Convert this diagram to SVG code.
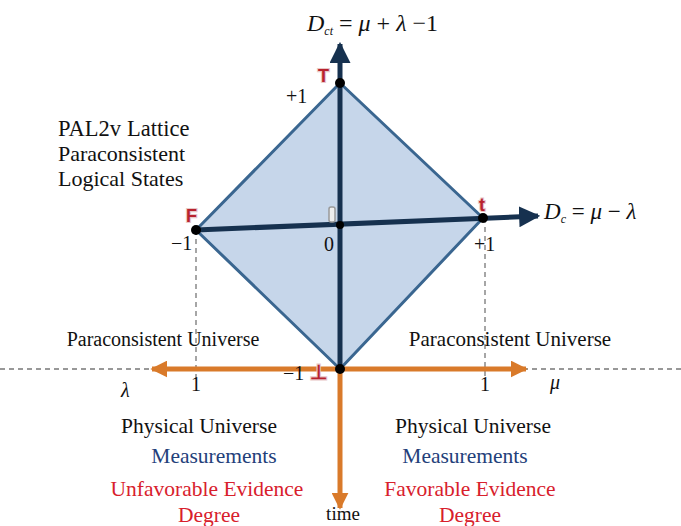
<svg xmlns="http://www.w3.org/2000/svg" width="681" height="526" viewBox="0 0 681 526">
<style>
.t{font-family:"Liberation Serif","Times New Roman",serif;font-size:21.5px;fill:#111}
.m{font-family:"Liberation Serif","Times New Roman",serif;font-size:20px;fill:#111}
.i{font-style:italic}
.blue{fill:#23407a}
.red{fill:#d8202c}
.lab{font-family:"Liberation Sans",Arial,sans-serif;font-weight:bold;font-size:18px;fill:#b8232e;stroke:#e8c8c8;stroke-width:2.2;paint-order:stroke}
.dash{stroke:#777;stroke-width:1.3;stroke-dasharray:5 4;fill:none}
.ax{stroke:#16314f;stroke-width:5;fill:none}
.or{stroke:#d97a2a;stroke-width:5;fill:none}
</style>
<defs>
<marker id="ah" viewBox="0 0 10 10" refX="9" refY="5" markerWidth="4.2" markerHeight="4.2" orient="auto" markerUnits="strokeWidth"><path d="M0,0 L10,5 L0,10 z" fill="#16314f"/></marker>
<marker id="ao" viewBox="0 0 10 10" refX="9" refY="5" markerWidth="3.4" markerHeight="3.4" orient="auto" markerUnits="strokeWidth"><path d="M0,0 L10,5 L0,10 z" fill="#d97a2a"/></marker>
</defs>
<rect width="681" height="526" fill="#fff"/>
<g id="lattice">
<polygon points="340,83 483,218 340,369 196,230" fill="#c6d6ea" stroke="#3a6690" stroke-width="3" stroke-linejoin="round"/>
</g>
<g id="connectors">
<line class="dash" x1="0" y1="369" x2="155" y2="369"/>
<line class="dash" x1="523" y1="369" x2="681" y2="369"/>
<line class="dash" x1="196" y1="230" x2="196" y2="378"/>
<line class="dash" x1="485" y1="218" x2="485" y2="376"/>
<line class="or" x1="340" y1="369" x2="152" y2="369" marker-end="url(#ao)"/>
<line class="or" x1="340" y1="369" x2="526" y2="369" marker-end="url(#ao)"/>
<line class="or" x1="340" y1="369" x2="340" y2="508" marker-end="url(#ao)"/>
<line class="ax" x1="196" y1="230" x2="538" y2="216" marker-end="url(#ah)"/>
<line class="ax" x1="340" y1="369" x2="340" y2="44" marker-end="url(#ah)"/>
</g>
<g id="points" fill="#000">
<circle cx="340" cy="83" r="5"/>
<circle cx="196" cy="230" r="5"/>
<circle cx="483" cy="218" r="5"/>
<circle cx="340" cy="369" r="5"/>
<circle cx="340" cy="225" r="4"/>
</g>
<g id="node-T"><text class="lab" x="318" y="82">T</text></g>
<g id="node-F"><text class="lab" x="186" y="222">F</text></g>
<g id="node-t"><text class="lab" x="479" y="211">t</text></g>
<g id="node-I"><rect x="329" y="207" width="6" height="15" rx="2" fill="#eee" stroke="#999" stroke-width="1.5"/></g>
<g id="node-bottom"><text class="lab" x="310" y="379" style="font-size:20px">⊥</text></g>
<g id="ticks">
<text class="m" x="286" y="103">+1</text>
<text class="m" x="171" y="250">−1</text>
<text class="m" x="324" y="251">0</text>
<text class="m" x="474" y="251">+1</text>
<text class="m" x="283" y="380">−1</text>
<text class="m" x="191" y="391">1</text>
<text class="m" x="480" y="391">1</text>
<text class="m i" x="121" y="397">λ</text>
<text class="m i" x="550" y="389">μ</text>
<text class="m" x="343" y="520" text-anchor="middle" style="font-size:19px">time</text>
</g>
<g id="formulas">
<text class="m i" x="307" y="31" style="font-size:24px">D<tspan font-size="12" dy="4">ct</tspan><tspan dy="-4" font-style="normal"> = </tspan>μ<tspan font-style="normal"> + </tspan>λ<tspan font-style="normal"> −1</tspan></text>
<text class="m i" x="544" y="219" style="font-size:23px">D<tspan font-size="12" dy="4">c</tspan><tspan dy="-4" font-style="normal"> = </tspan>μ<tspan font-style="normal"> − </tspan>λ</text>
</g>
<g id="title">
<text class="t" x="58" y="136" style="font-size:22.5px">PAL2v<tspan dx="6">Lattice</tspan></text>
<text class="t" x="58" y="161" style="font-size:22px">Paraconsistent</text>
<text class="t" x="58" y="186" style="font-size:22px">Logical States</text>
</g>
<g id="universe">
<text class="t" x="163" y="346" text-anchor="middle" style="font-size:20px">Paraconsistent Universe</text>
<text class="t" x="510" y="346" text-anchor="middle" style="font-size:21px">Paraconsistent Universe</text>
<text class="t" x="199" y="433" text-anchor="middle">Physical Universe</text>
<text class="t" x="473" y="433" text-anchor="middle">Physical Universe</text>
<text class="t blue" x="214" y="463" text-anchor="middle">Measurements</text>
<text class="t blue" x="465" y="463" text-anchor="middle">Measurements</text>
<text class="t red" x="207" y="496" text-anchor="middle">Unfavorable Evidence</text>
<text class="t red" x="209" y="522" text-anchor="middle">Degree</text>
<text class="t red" x="470" y="496" text-anchor="middle">Favorable Evidence</text>
<text class="t red" x="470" y="522" text-anchor="middle">Degree</text>
</g>
</svg>
